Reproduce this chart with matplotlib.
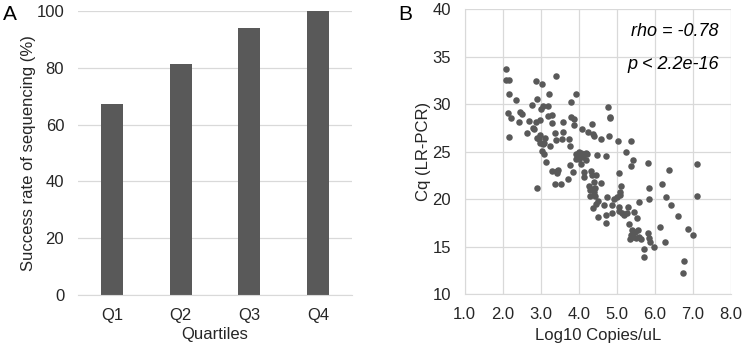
import numpy as np
import matplotlib.pyplot as plt

plt.rcParams['font.family'] = ['Liberation Sans', 'DejaVu Sans']
plt.rcParams['font.size'] = 12

# panel A
quartiles = ['Q1', 'Q2', 'Q3', 'Q4']
success = [67.4, 81.2, 93.8, 100.0]

# panel B (log10 copies/uL, Cq)
log_copies = [2.08, 2.09, 2.16, 2.16, 2.14, 2.23, 2.16, 2.35, 2.46, 2.51, 2.42, 2.68, 2.64, 2.77,
              2.80, 2.82, 2.87, 2.89, 2.90, 2.90, 2.91, 2.96, 2.99, 2.99, 3.04, 3.02, 3.07, 3.05,
              3.03, 3.08, 3.12, 3.10, 3.14, 3.20, 3.20, 3.22, 3.24, 3.29, 3.29, 3.31, 3.38, 3.38,
              3.41, 3.41, 3.42, 3.44, 3.53, 3.59, 3.59, 3.57, 3.71, 3.74, 3.77, 3.78, 3.80, 3.79,
              3.85, 3.89, 3.87, 3.94, 3.94, 3.99, 4.02, 4.05, 4.09, 4.10, 4.14, 4.14, 4.14, 4.18,
              4.22, 4.24, 4.27, 4.29, 4.29, 4.33, 4.35, 4.35, 4.37, 4.37, 4.38, 4.41, 4.40, 4.40,
              4.43, 4.44, 4.45, 4.46, 4.48, 4.50, 4.52, 4.60, 4.60, 4.67, 4.71, 4.71, 4.72, 4.75,
              4.77, 4.80, 4.82, 4.83, 4.87, 4.89, 4.94, 5.00, 5.04, 5.06, 5.06, 5.08, 5.06, 5.10,
              5.12, 5.13, 5.18, 5.24, 5.26, 5.31, 5.33, 5.35, 5.37, 5.37, 5.39, 5.40, 5.43, 5.44,
              5.46, 5.48, 5.50, 5.53, 5.55, 5.59, 5.60, 5.64, 5.72, 5.71, 5.83, 5.84, 5.84, 5.83,
              5.84, 5.87, 5.98, 6.15, 6.19, 6.26, 6.29, 6.38, 6.44, 6.61, 6.77, 6.75, 6.87, 7.01,
              7.11, 7.12, 3.98, 4.06, 4.12, 4.01, 3.92, 4.20, 3.45, 2.98]
cq = [33.7, 32.55, 32.55, 31.1, 29.1, 28.55, 26.5, 30.4, 29.2, 29.0, 28.1, 28.2, 27.0, 29.9,
      27.5, 27.35, 28.1, 32.45, 30.5, 26.4, 21.2, 26.3, 28.3, 26.8, 32.1, 29.5, 29.85, 25.8,
      25.1, 24.8, 26.4, 25.9, 23.9, 28.8, 29.8, 31.1, 25.6, 28.9, 28.0, 23.0, 27.0, 21.6,
      33.0, 26.2, 23.0, 22.7, 21.6, 28.1, 27.1, 26.3, 22.1, 26.3, 25.6, 23.6, 30.2, 28.7,
      22.9, 28.4, 27.8, 31.1, 24.8, 24.6, 24.2, 23.7, 24.5, 27.35, 24.8, 22.9, 22.3, 24.1,
      24.8, 27.1, 21.4, 21.0, 20.3, 23.0, 27.9, 22.5, 21.1, 19.1, 26.9, 26.65, 21.8, 20.7,
      21.2, 20.3, 22.5, 19.5, 24.6, 19.8, 18.1, 26.3, 21.7, 19.4, 24.5, 18.35, 17.45, 20.2,
      29.7, 26.65, 28.7, 28.5, 18.5, 19.35, 20.05, 20.2, 26.1, 22.7, 19.2, 20.4, 18.8, 20.75,
      21.4, 18.5, 18.35, 25.0, 18.5, 19.2, 17.4, 15.8, 26.1, 23.5, 16.2, 16.75, 16.0, 24.1,
      18.6, 16.5, 15.95, 18.0, 16.75, 16.0, 19.7, 15.8, 14.7, 13.9, 23.85, 21.2, 20.0, 16.4,
      15.9, 15.5, 15.0, 17.1, 21.6, 15.5, 20.2, 23.1, 19.4, 18.2, 13.5, 12.2, 16.8, 16.2,
      23.7, 20.3, 24.3, 24.9, 24.4, 25.0, 24.2, 24.9, 23.1, 25.9]

grey = '#595959'
gridc = '#d9d9d9'
txt = '#262626'

fig = plt.figure(figsize=(7.43, 3.44), dpi=100)

# ---- A
ax1 = fig.add_axes([0.105, 0.1416, 0.369, 0.827])
ax1.bar(quartiles, success, width=0.32, color=grey, zorder=2)
ax1.set_ylim(0, 100)
ax1.set_xlim(-0.5, 3.5)
ax1.set_yticks(np.arange(0, 101, 20))
ax1.yaxis.grid(True, color=gridc, linewidth=0.9, zorder=0)
for s in ['top', 'right', 'left']:
    ax1.spines[s].set_visible(False)
ax1.spines['bottom'].set_color(gridc)
ax1.tick_params(length=0, labelsize=12, colors=txt)
ax1.tick_params(axis='x', pad=9)
ax1.tick_params(axis='y', pad=10)
ax1.set_ylabel('Success rate of sequencing (%)', fontsize=12, color=txt, labelpad=0)
ax1.set_xlabel('Quartiles', fontsize=12, color=txt, labelpad=3)
fig.text(0.004, 0.985, 'A', fontsize=15, va='top', ha='left')

# ---- B
ax2 = fig.add_axes([0.6254, 0.1453, 0.358, 0.8276])
ax2.scatter(log_copies, cq, s=22, color=grey, linewidths=0, zorder=3)
ax2.set_xlim(1, 8)
ax2.set_ylim(10, 40)
ax2.set_xticks(np.arange(1, 8.1, 1))
ax2.set_xticklabels(['%.1f' % v for v in np.arange(1, 8.1, 1)])
ax2.set_yticks(np.arange(10, 41, 5))
ax2.grid(True, color=gridc, linewidth=0.9, zorder=0)
for s in ax2.spines.values():
    s.set_visible(False)
ax2.spines['left'].set_visible(True)
ax2.spines['bottom'].set_visible(True)
ax2.spines['left'].set_color(gridc)
ax2.spines['bottom'].set_color(gridc)
ax2.tick_params(length=0, labelsize=12, colors=txt)
ax2.tick_params(axis='x', pad=9)
ax2.tick_params(axis='y', pad=10)
ax2.set_ylabel('Cq (LR-PCR)', fontsize=12, color=txt, labelpad=1)
ax2.set_xlabel('Log10 Copies/uL', fontsize=12, color=txt, labelpad=5)
ax2.text(7.68, 37.65, 'rho = -0.78', style='italic', fontsize=13, ha='right', va='center')
ax2.text(7.68, 34.15, 'p < 2.2e-16', style='italic', fontsize=13, ha='right', va='center')
fig.text(0.536, 0.985, 'B', fontsize=15, va='top', ha='left')

fig.savefig('out.png', dpi=100)
